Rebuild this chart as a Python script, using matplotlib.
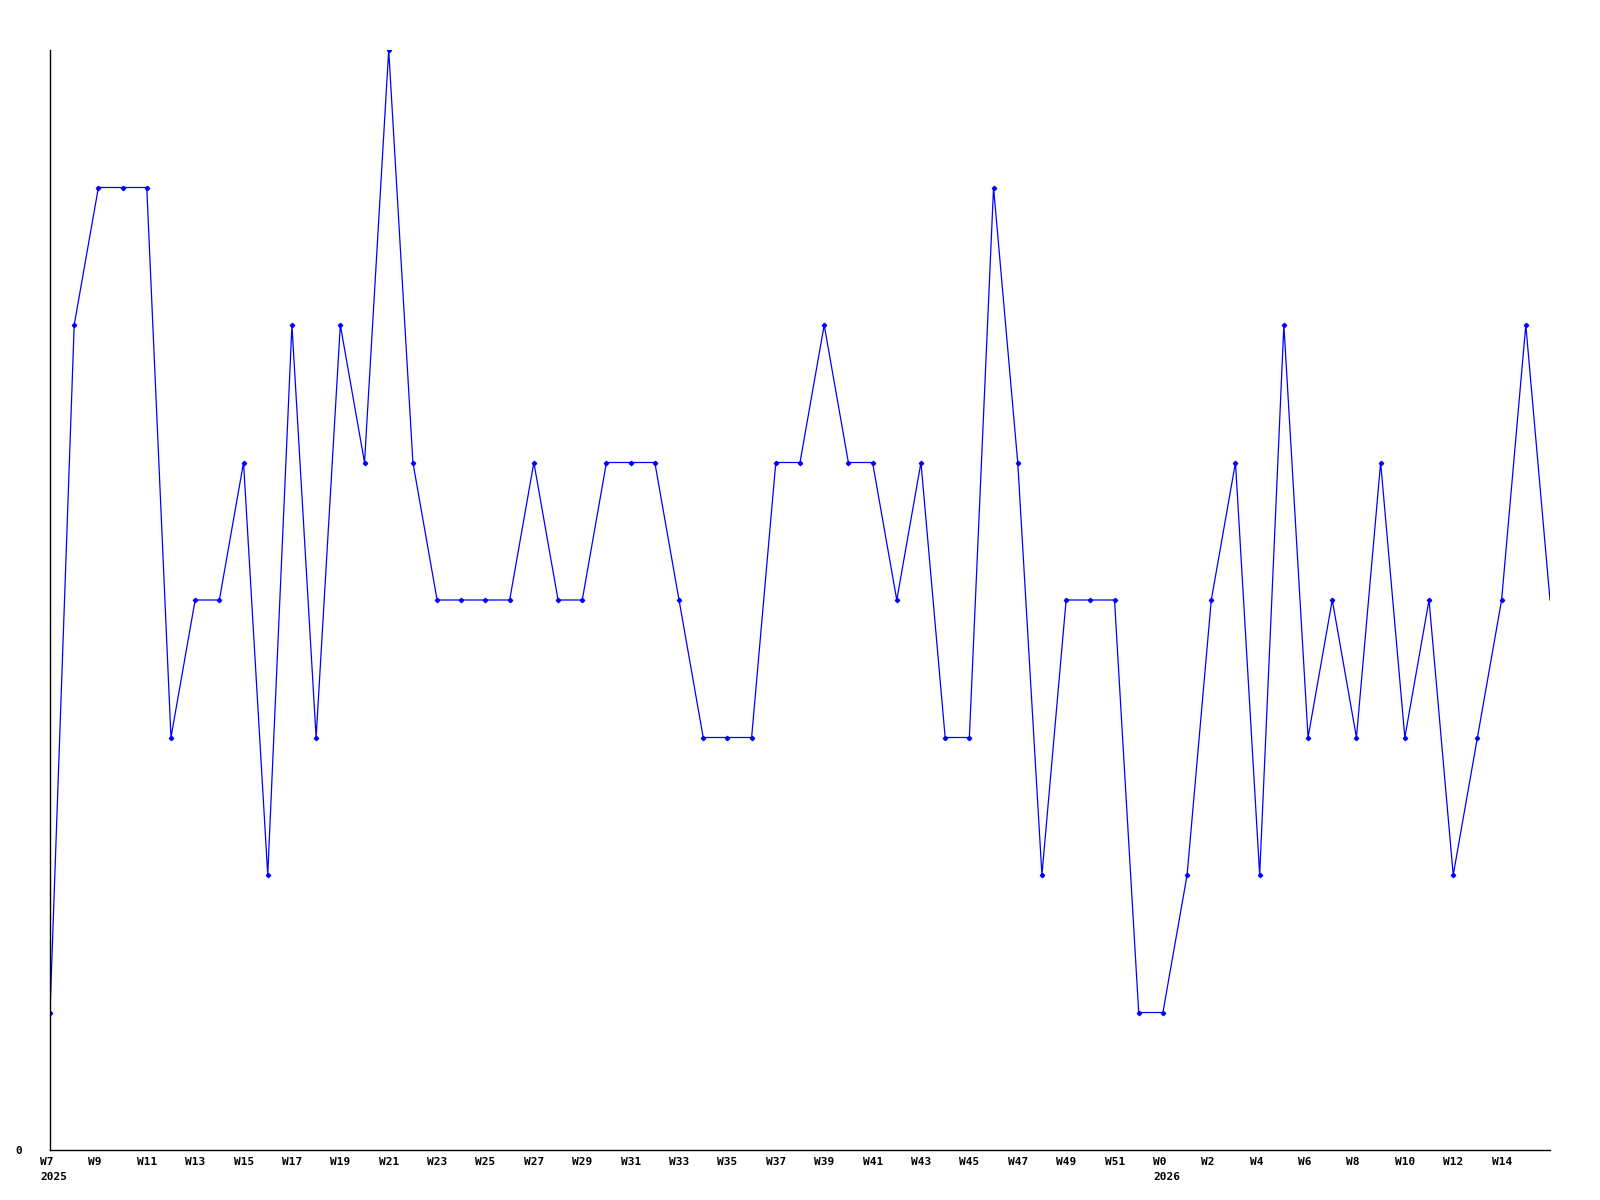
import matplotlib
matplotlib.use("Agg")
import matplotlib.pyplot as plt
import matplotlib.transforms as mtransforms

weeks_2025 = [f"W{w}" for w in range(7, 53)]
weeks_2026 = [f"W{w}" for w in range(0, 17)]
weeks = weeks_2025 + weeks_2026

values_2025 = [1, 6, 7, 7, 7, 3, 4, 4, 5, 2,
               6, 3, 6, 5, 8, 5, 4, 4, 4, 4,
               5, 4, 4, 5, 5, 5, 4, 3, 3, 3,
               5, 5, 6, 5, 5, 4, 5, 3, 3, 7,
               5, 2, 4, 4, 4, 1]
values_2026 = [1, 2, 4, 5, 2, 6, 3, 4, 3, 5,
               3, 4, 2, 3, 4, 6, 4]
values = values_2025 + values_2026

year_labels = {0: "2025", len(weeks_2025): "2026"}

fig = plt.figure(figsize=(16, 12), dpi=100)
ax = fig.add_axes([50/1600, 50/1200, 1500/1600, 1100/1200])

x = list(range(len(values)))
ax.plot(x, values, color="#0000ff", linewidth=0.9)
ax.plot(x[:-1], values[:-1], linestyle="none", marker="D", markersize=2.2,
        color="#0000ff")

ax.set_xlim(0, len(values) - 1)
ax.set_ylim(0, 8)

for s in ["top", "right"]:
    ax.spines[s].set_visible(False)
for s in ["left", "bottom"]:
    ax.spines[s].set_linewidth(1.0)
    ax.spines[s].set_color("black")

font = dict(family="DejaVu Sans Mono", weight="bold", fontsize=8)

ax.set_yticks([0])
ax.set_yticklabels(["0"], **font)
ax.tick_params(axis="y", length=0, pad=20)

tick_idx = list(range(0, len(weeks) - 1, 2))
ax.set_xticks(tick_idx)
labels = []
for i in tick_idx:
    lab = weeks[i]
    if i in year_labels:
        lab = lab + "\n" + year_labels[i]
    labels.append(lab)
ax.set_xticklabels(labels, ha="left", linespacing=1.6, **font)
ax.tick_params(axis="x", length=0, pad=5)
offset = mtransforms.ScaledTranslation(-10/100, 0, fig.dpi_scale_trans)
for lbl in ax.get_xticklabels():
    lbl.set_transform(lbl.get_transform() + offset)

fig.savefig("out.png", dpi=100, facecolor="white")
